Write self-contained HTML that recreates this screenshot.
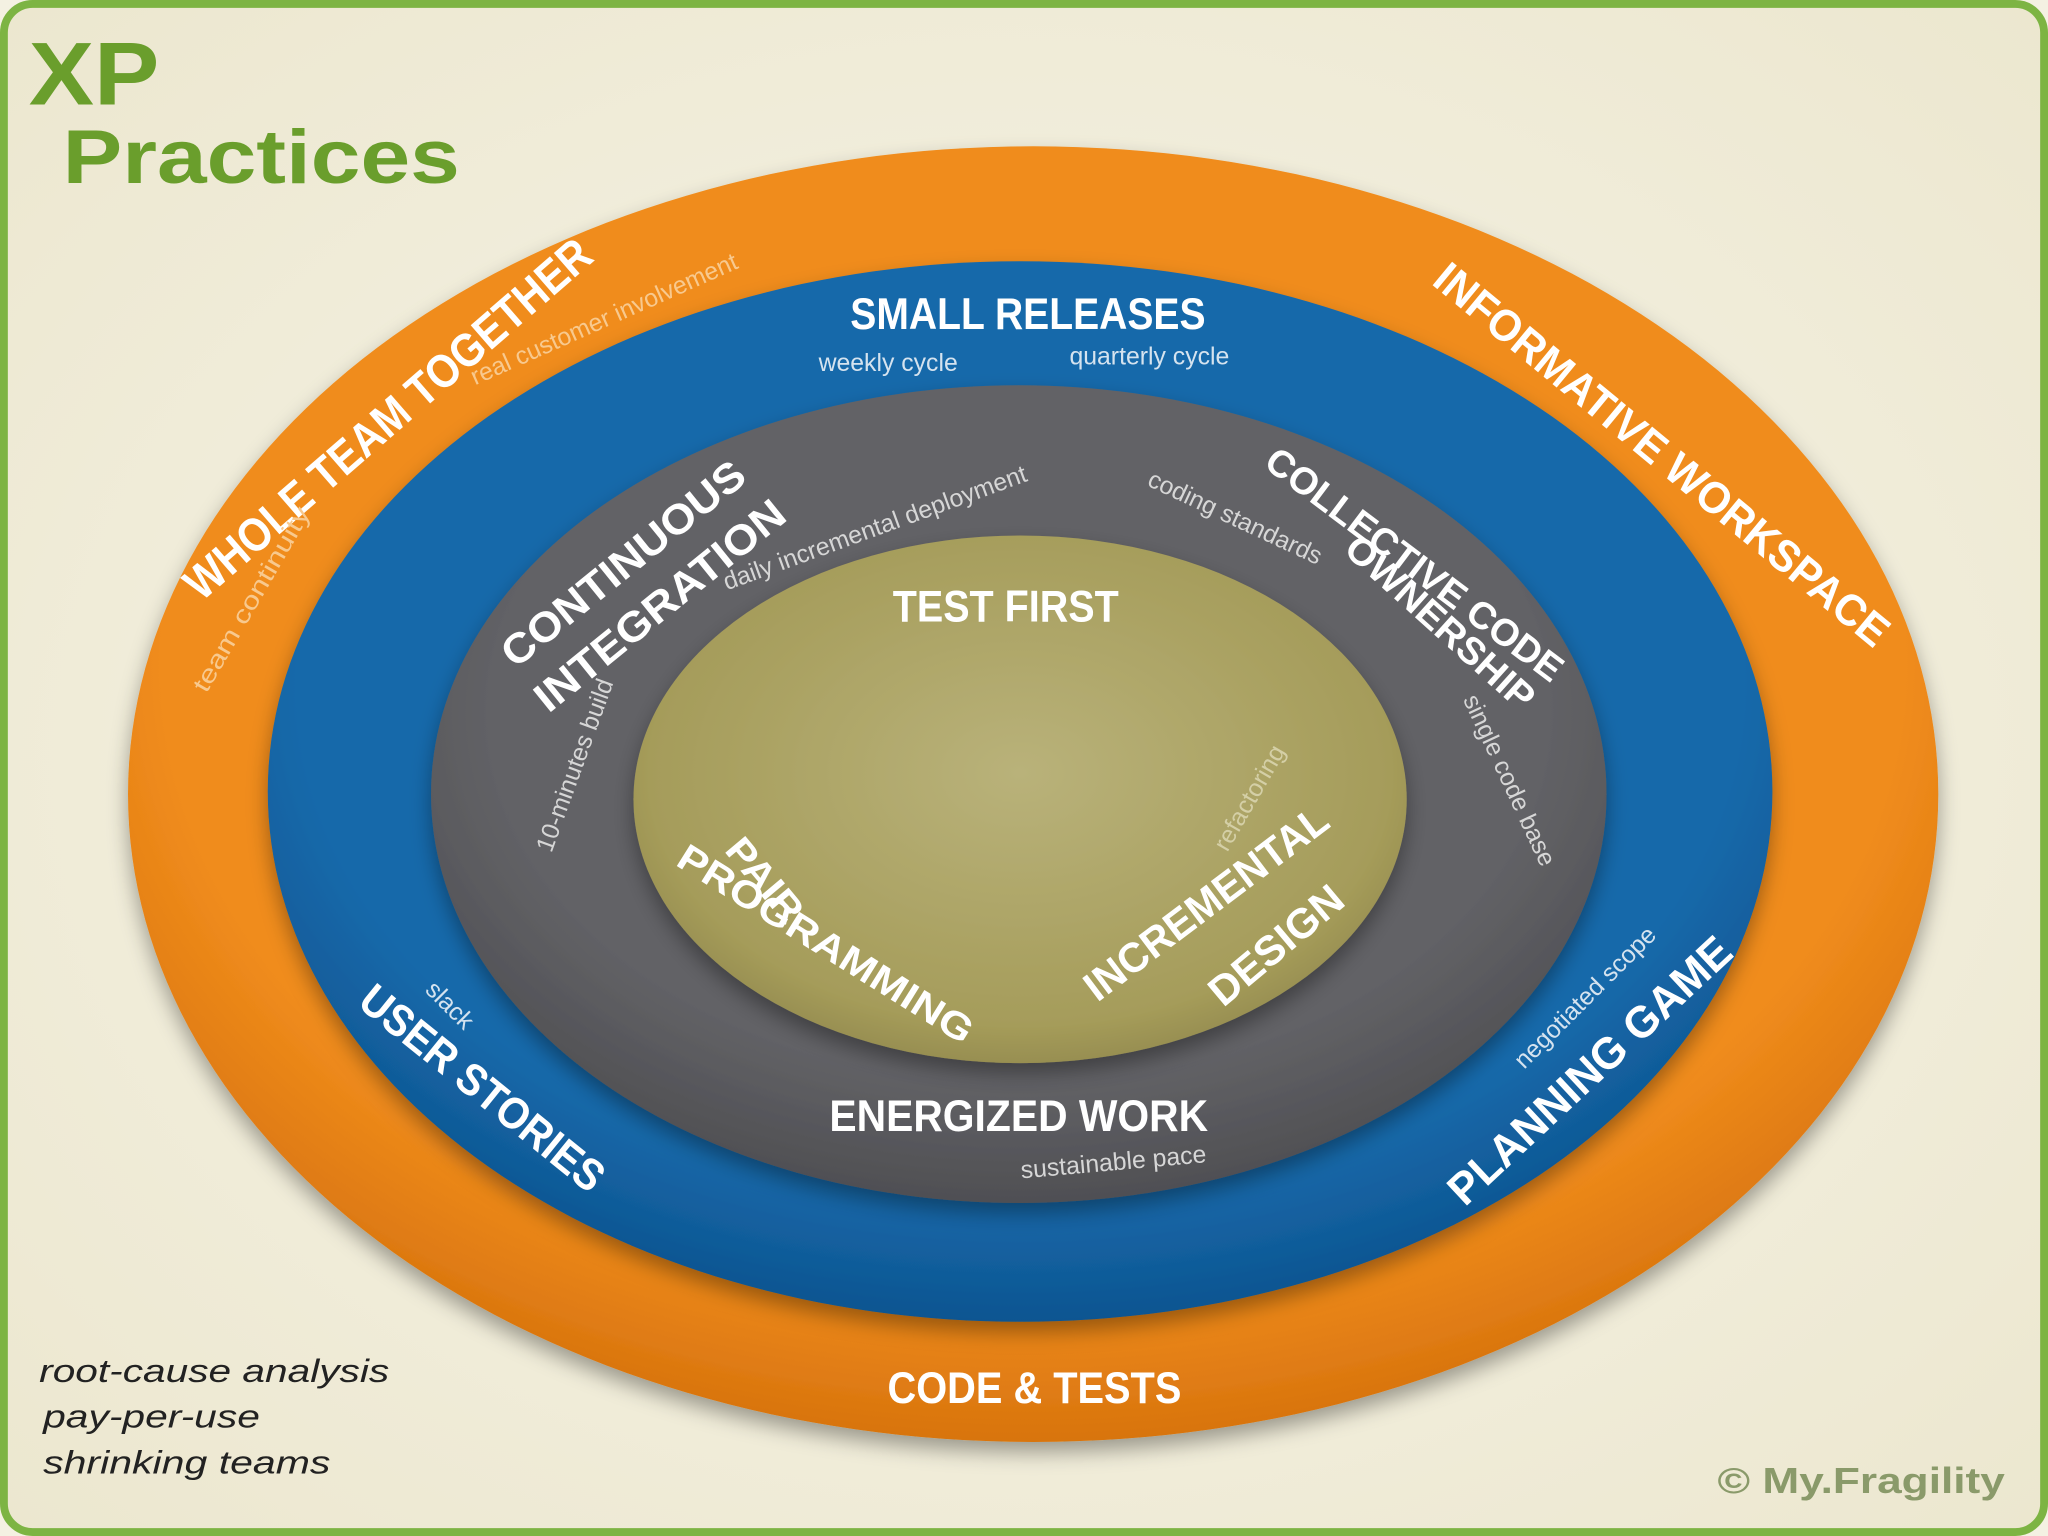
<!DOCTYPE html>
<html><head><meta charset="utf-8"><style>
html,body{margin:0;padding:0;background:#f4f1e2;}
svg{display:block;}
text{font-family:"Liberation Sans",sans-serif;}
</style></head><body>
<svg width="2048" height="1536" viewBox="0 0 1568 1176" xmlns="http://www.w3.org/2000/svg">
<defs>
<radialGradient id="bg" cx="50%" cy="50%" r="70%"><stop offset="0" stop-color="#f7f5ea"/><stop offset="1" stop-color="#ece7cf"/></radialGradient>
<radialGradient id="org" cx="50%" cy="40%" r="60%"><stop offset="0.8" stop-color="#f08c1c"/><stop offset="1" stop-color="#d8740e"/></radialGradient>
<radialGradient id="blu" cx="50%" cy="40%" r="60%"><stop offset="0.8" stop-color="#1669aa"/><stop offset="1" stop-color="#0e5591"/></radialGradient>
<radialGradient id="gry" cx="50%" cy="40%" r="60%"><stop offset="0.75" stop-color="#626266"/><stop offset="1" stop-color="#4f4f53"/></radialGradient>
<radialGradient id="olv" cx="50%" cy="45%" r="60%"><stop offset="0" stop-color="#b9b27a"/><stop offset="0.8" stop-color="#a59c5a"/><stop offset="1" stop-color="#8e854a"/></radialGradient>
<filter id="sh" x="-10%" y="-10%" width="120%" height="125%"><feDropShadow dx="0" dy="8" stdDeviation="8" flood-opacity="0.35"/></filter>
</defs>
<rect x="3" y="3" width="1562" height="1170" rx="22" fill="url(#bg)" stroke="#7db443" stroke-width="6"/>
<text x="22" y="80" font-size="68" font-weight="bold" fill="#6a9e2c" textLength="100" lengthAdjust="spacingAndGlyphs">XP</text>
<text x="48" y="140" font-size="58" font-weight="bold" fill="#6a9e2c" textLength="304" lengthAdjust="spacingAndGlyphs">Practices</text>

<ellipse cx="791" cy="608" rx="693" ry="496" fill="url(#org)" filter="url(#sh)"/>
<ellipse cx="781" cy="606" rx="576" ry="406" fill="url(#blu)" filter="url(#sh)"/>
<ellipse cx="780" cy="608" rx="450" ry="313" fill="url(#gry)" filter="url(#sh)"/>
<ellipse cx="781" cy="612" rx="296" ry="202" fill="url(#olv)" filter="url(#sh)"/>

<g font-weight="bold" fill="#fff" text-anchor="middle">
<text transform="translate(305,330) rotate(-41)" font-size="36" textLength="400" lengthAdjust="spacingAndGlyphs">WHOLE TEAM TOGETHER</text>
<text transform="translate(1265,357) rotate(39.5)" font-size="34" textLength="440" lengthAdjust="spacingAndGlyphs">INFORMATIVE WORKSPACE</text>
<text x="787" y="252" font-size="34" textLength="272" lengthAdjust="spacingAndGlyphs">SMALL RELEASES</text>
<text transform="translate(484,440) rotate(-39)" font-size="32" textLength="230" lengthAdjust="spacingAndGlyphs">CONTINUOUS</text>
<text transform="translate(512,472) rotate(-39)" font-size="32" textLength="237" lengthAdjust="spacingAndGlyphs">INTEGRATION</text>
<text transform="translate(1077,440) rotate(37)" font-size="29" textLength="277" lengthAdjust="spacingAndGlyphs">COLLECTIVE CODE</text>
<text transform="translate(1096,484) rotate(42)" font-size="29" textLength="184" lengthAdjust="spacingAndGlyphs">OWNERSHIP</text>
<text x="770" y="476" font-size="34" textLength="173" lengthAdjust="spacingAndGlyphs">TEST FIRST</text>
<text transform="translate(578,680) rotate(50)" font-size="29" textLength="75" lengthAdjust="spacingAndGlyphs">PAIR</text>
<text transform="translate(627,731) rotate(32)" font-size="29" textLength="261" lengthAdjust="spacingAndGlyphs">PROGRAMMING</text>
<text transform="translate(930,700) rotate(-37)" font-size="32" textLength="225" lengthAdjust="spacingAndGlyphs">INCREMENTAL</text>
<text transform="translate(984,732) rotate(-40)" font-size="32" textLength="124" lengthAdjust="spacingAndGlyphs">DESIGN</text>
<text x="780" y="866" font-size="34" textLength="290" lengthAdjust="spacingAndGlyphs">ENERGIZED WORK</text>
<text transform="translate(362,842) rotate(39)" font-size="34" textLength="230" lengthAdjust="spacingAndGlyphs">USER STORIES</text>
<text transform="translate(1225,828) rotate(-43)" font-size="34" textLength="283" lengthAdjust="spacingAndGlyphs">PLANNING GAME</text>
<text x="792" y="1074" font-size="34" textLength="225" lengthAdjust="spacingAndGlyphs">CODE &amp; TESTS</text>
</g>
<g text-anchor="middle" font-size="19">
<text transform="translate(465,250) rotate(-24)" fill="#f8c98e">real customer involvement</text>
<text transform="translate(198,462) rotate(-60)" fill="#f8c98e" textLength="160" lengthAdjust="spacingAndGlyphs">team continuity</text>
<text x="680" y="284" fill="#d5e3ef">weekly cycle</text>
<text x="880" y="279" fill="#d5e3ef">quarterly cycle</text>
<text transform="translate(672,410) rotate(-20)" fill="#d6d6d6">daily incremental deployment</text>
<text transform="translate(943,402) rotate(25)" fill="#d6d6d6">coding standards</text>
<text transform="translate(1150,600) rotate(65)" fill="#d6d6d6">single code base</text>
<text transform="translate(446,588) rotate(-70)" fill="#d6d6d6">10-minutes build</text>
<text transform="translate(962,614) rotate(-60)" fill="#d4cfa6">refactoring</text>
<text transform="translate(853,896) rotate(-5)" fill="#d6d6d6">sustainable pace</text>
<text transform="translate(340,774) rotate(45)" fill="#d5e3ef">slack</text>
<text transform="translate(1218,768) rotate(-45)" fill="#d5e3ef">negotiated scope</text>
</g>
<g font-size="25" font-style="italic" fill="#222">
<text x="30" y="1058" textLength="268" lengthAdjust="spacingAndGlyphs">root-cause analysis</text>
<text x="33" y="1093" textLength="166" lengthAdjust="spacingAndGlyphs">pay-per-use</text>
<text x="33" y="1128" textLength="220" lengthAdjust="spacingAndGlyphs">shrinking teams</text>
</g>
<text x="1535" y="1143" text-anchor="end" font-size="28" font-weight="bold" fill="#8a9a6a" textLength="220" lengthAdjust="spacingAndGlyphs">© My.Fragility</text>
</svg>
</body></html>
